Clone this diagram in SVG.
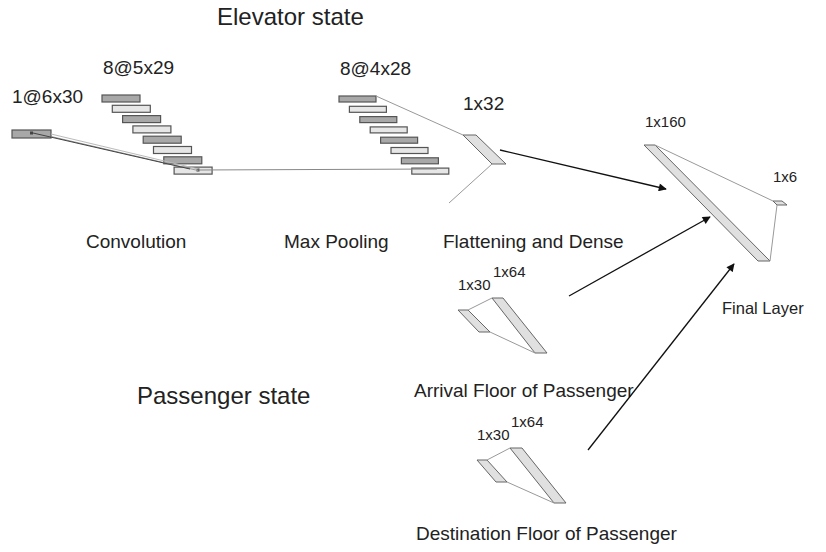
<svg xmlns="http://www.w3.org/2000/svg" width="826" height="552" viewBox="0 0 826 552">
<defs>
<style>
text{font-family:"Liberation Sans",Arial,sans-serif;fill:#222}
.big{font-size:24px}
.lbl{font-size:19px}
.sm{font-size:15px}
.d{fill:#a8a8a8;stroke:#555;stroke-width:1.2}
.l{fill:#e6e6e6;stroke:#555;stroke-width:1.2}
.p{fill:#e0e0e0;stroke:#666;stroke-width:1}
.thin{stroke:#999;stroke-width:1;fill:none}
.arr{stroke:#111;stroke-width:1.3;fill:none;marker-end:url(#ah)}
</style>
<marker id="ah" viewBox="0 0 10 10" refX="9" refY="5" markerWidth="10" markerHeight="8" markerUnits="userSpaceOnUse" orient="auto">
<path d="M0,0 L10,5 L0,10 z" fill="#111"/>
</marker>
</defs>
<rect width="826" height="552" fill="#fff"/>
<g id="titles">
<text class="big" x="217" y="25">Elevator state</text>
<text class="big" x="137" y="404">Passenger state</text>
</g>
<g id="input">
<rect class="d" x="12" y="130" width="39" height="8"/>
<rect x="30" y="131.5" width="3" height="3" fill="#444"/>
<text class="lbl" x="12" y="103">1@6x30</text>
</g>
<g id="convolution">
<rect class="d" x="102" y="95" width="38" height="7"/>
<rect class="l" x="112.3" y="105.3" width="38" height="7"/>
<rect class="d" x="122.6" y="115.6" width="38" height="7"/>
<rect class="l" x="132.9" y="125.9" width="38" height="7"/>
<rect class="d" x="143.2" y="136.2" width="38" height="7"/>
<rect class="l" x="153.5" y="146.5" width="38" height="7"/>
<rect class="d" x="163.8" y="156.8" width="38" height="7"/>
<rect class="l" x="174.1" y="167.1" width="38" height="7"/>
<rect x="196.5" y="168.5" width="3" height="3" fill="#444"/>
<text class="lbl" x="103" y="74">8@5x29</text>
<text class="lbl" x="86" y="248">Convolution</text>
</g>
<g id="pooling">
<rect class="d" x="339" y="96" width="37" height="6"/>
<rect class="l" x="349.4" y="106.3" width="37" height="6"/>
<rect class="d" x="359.8" y="116.6" width="37" height="6"/>
<rect class="l" x="370.2" y="126.9" width="37" height="6"/>
<rect class="d" x="380.6" y="137.2" width="37" height="6"/>
<rect class="l" x="391" y="147.5" width="37" height="6"/>
<rect class="d" x="401.4" y="157.8" width="37" height="6"/>
<rect class="l" x="411.8" y="168.1" width="37" height="6"/>
<text class="lbl" x="340" y="75">8@4x28</text>
<text class="lbl" x="284" y="248">Max Pooling</text>
</g>
<g id="flatten">
<polygon class="p" points="463,135 476,135 506,164 492,164"/>
<text class="lbl" x="463" y="110">1x32</text>
<text class="lbl" x="443" y="248">Flattening and Dense</text>
</g>
<g id="final">
<polygon class="p" points="644,145 655,145 770,261 758,261"/>
<polygon class="p" points="773,201 782,201 787,205 777,205"/>
<text class="sm" x="645" y="127">1x160</text>
<text class="sm" x="773" y="182">1x6</text>
<text class="sm" x="722" y="314" style="font-size:16.5px">Final Layer</text>
</g>
<g id="arrival">
<polygon class="p" points="458,310 468,310 490,332 479,332"/>
<polygon class="p" points="492,298 503,298 547,353 535,353"/>
<line class="thin" x1="468" y1="310" x2="492" y2="298"/>
<line class="thin" x1="490" y1="332" x2="535" y2="353"/>
<text class="sm" x="458" y="290">1x30</text>
<text class="sm" x="493" y="277">1x64</text>
<text class="lbl" x="414" y="397">Arrival Floor of Passenger</text>
</g>
<g id="destination">
<polygon class="p" points="477,460 487,460 507,482 496,482"/>
<polygon class="p" points="510,448 522,448 566,503 554,503"/>
<line class="thin" x1="487" y1="460" x2="510" y2="448"/>
<line class="thin" x1="507" y1="482" x2="554" y2="503"/>
<text class="sm" x="477" y="440">1x30</text>
<text class="sm" x="511" y="427">1x64</text>
<text class="lbl" x="416" y="540">Destination Floor of Passenger</text>
</g>
<g id="connectors">
<line x1="51" y1="134" x2="198" y2="169" stroke="#bbb" stroke-width="1"/>
<line x1="51" y1="136.5" x2="198" y2="170.5" stroke="#999" stroke-width="1"/>
<line x1="33" y1="133" x2="190" y2="169" stroke="#444" stroke-width="1"/>
<line x1="198" y1="170" x2="437" y2="169" stroke="#888" stroke-width="1"/>
<line class="thin" x1="376" y1="96" x2="463" y2="135"/>
<line class="thin" x1="492" y1="164" x2="449" y2="203"/>
<line class="thin" x1="655" y1="145" x2="773" y2="201"/>
<line class="thin" x1="777" y1="205" x2="770" y2="261"/>
<line class="arr" x1="500" y1="150" x2="666" y2="189"/>
<line class="arr" x1="569" y1="296" x2="710" y2="217"/>
<line class="arr" x1="588" y1="450" x2="734" y2="264"/>
</g>
</svg>
